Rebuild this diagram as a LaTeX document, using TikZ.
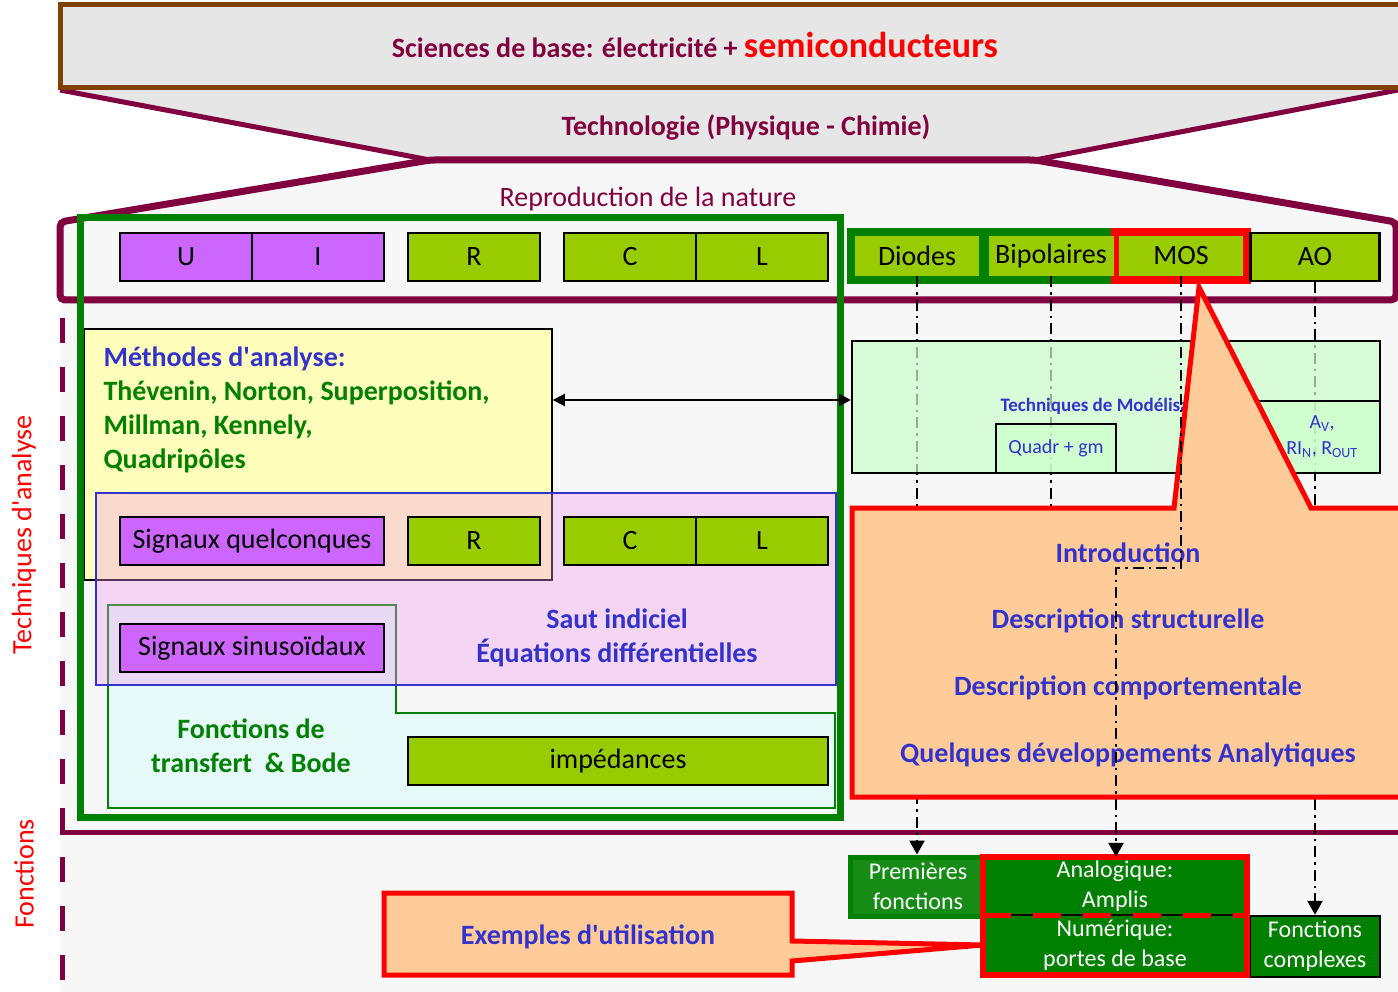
\documentclass[tikz,border=0pt]{standalone}
\usepackage{fontspec}
\setmainfont{Carlito}
\usetikzlibrary{arrows.meta}

\definecolor{brun}{HTML}{804000}
\definecolor{bordeaux}{HTML}{800040}
\definecolor{grisclair}{HTML}{E6E6E6}
\definecolor{fond}{HTML}{F7F7F7}
\definecolor{violetbox}{HTML}{CC66FF}
\definecolor{vertpomme}{HTML}{99CC00}
\definecolor{vertfonce}{HTML}{008000}
\definecolor{vertprem}{HTML}{168C16}
\definecolor{peche}{HTML}{FFCC99}
\definecolor{bleutexte}{HTML}{3333CC}
\definecolor{jaune}{HTML}{FFFFBB}
\definecolor{rose}{RGB}{240,150,240}
\definecolor{cyanclair}{HTML}{E6FAFA}
\definecolor{vertmodele}{HTML}{CCFFCC}

\newcommand{\apos}{\textquotesingle}

\begin{document}
\begin{tikzpicture}[x=1pt,y=-1pt,
    f28/.style={font=\fontsize{28}{34}\selectfont},
    f28b/.style={font=\fontsize{28}{34}\selectfont\bfseries},
    f20/.style={font=\fontsize{20}{26}\selectfont},
    tiret/.style={line width=2.5, dash pattern=on 11 off 5 on 2.5 off 5},
    fleche/.style={-{Triangle[length=14,width=15]}}]

  \useasboundingbox (0,0) rectangle (1398,992);
  \fill[white] (0,0) rectangle (1398,992);
  \fill[fond] (60,300) rectangle (1398,992);

  % sablier du haut
  \fill[grisclair] (60,88) -- (1398,88) -- (1035,160) -- (430,160) -- cycle;
  \filldraw[fill=fond, draw=bordeaux, line width=7, rounded corners=5]
    (430,160) -- (60,222) -- (60,300) -- (1396,300) -- (1396,222) -- (1035,160) -- cycle;
  \draw[bordeaux, line width=5] (60,90) -- (430,160) (1035,160) -- (1398,90);
  \draw[fill=grisclair, draw=brun, line width=5] (60,5) rectangle (1410,88);

  \node[bordeaux, font=\bfseries] (Sciences) at (695,45)
    {\fontsize{28}{34}\selectfont Sciences de base: électricité + \textcolor{red}{\fontsize{36}{40}\selectfont semiconducteurs}};
  \node[bordeaux, f28b] (Techno) at (746,127) {Technologie (Physique - Chimie)};
  \node[bordeaux, f28] (Repro) at (648,199) {Reproduction de la nature};

  % separations
  \draw[bordeaux, line width=5, dash pattern=on 25 off 24] (62,318) -- (62,992);
  \draw[bordeaux, line width=5] (60,832) -- (1398,832);
  \node[rotate=90, red, f28] (techlbl) at (24,535) {Techniques d\apos analyse};
  \node[rotate=90, red, f28] (fctlbl) at (24,874) {Fonctions};

  % zone de gauche
  \node[draw, fill=jaune, line width=1.5, minimum width=468, minimum height=251] (Meth) at (318,454.5) {};
  \filldraw[fill=cyanclair, draw=vertfonce, line width=1.5]
    (108,605) -- (396,605) -- (396,713) -- (835,713) -- (835,808) -- (108,808) -- cycle;
  \filldraw[fill=rose, fill opacity=0.35, draw=bleutexte, line width=1.5] (96,493) rectangle (836,685);

  \node[anchor=west, align=left, vertfonce, f28b] (MethTxt) at (100,410)
    {\textcolor{bleutexte}{Méthodes d\apos analyse:}\\Thévenin, Norton, Superposition,\\Millman, Kennely,\\Quadripôles};
  \node[align=center, bleutexte, f28b] (Saut) at (617,638) {Saut indiciel\\Équations différentielles};
  \node[align=center, vertfonce, f28b] (Bode) at (251,746) {Fonctions de\\transfert~~\& Bode};

  \begin{scope}[every node/.style={draw, line width=2.5, minimum width=132, minimum height=48, f28}]
    \node[fill=violetbox] (U) at (186,257) {U};
    \node[fill=violetbox] (I) at (318,257) {I};
    \node[fill=vertpomme] (R) at (474,257) {R};
    \node[fill=vertpomme] (C) at (630,257) {C};
    \node[fill=vertpomme] (L) at (762,257) {L};
    \node[fill=violetbox, minimum width=264] (SigQ) at (252,541) {Signaux quelconques};
    \node[fill=vertpomme] (R2) at (474,541) {R};
    \node[fill=vertpomme] (C2) at (630,541) {C};
    \node[fill=vertpomme] (L2) at (762,541) {L};
    \node[fill=violetbox, minimum width=264] (SigS) at (252,648) {Signaux sinusoïdaux};
    \node[fill=vertpomme, minimum width=420] (Imp) at (618,761) {impédances};
  \end{scope}

  \draw[vertfonce, line width=7] (80,218) rectangle (840,817);

  % composants
  \fill[vertfonce] (847,228) rectangle (1121,284);
  \fill[red] (1111,228) rectangle (1251,284);
  \begin{scope}[every node/.style={fill=vertpomme, minimum height=40, f28}]
    \node[minimum width=124] (Diodes) at (917,256) {Diodes};
    \node[minimum width=125] (Bip) at (1051,256) {Bipolaires};
    \node[minimum width=124] (MOS) at (1181,256) {MOS};
    \node[draw, line width=2.5, minimum width=129, minimum height=48] (AO) at (1315,257) {AO};
  \end{scope}

  % fonctions
  \begin{scope}[every node/.style={white, align=center, font=\fontsize{24}{30}\selectfont}]
    \node[fill=vertprem, draw=vertfonce, line width=5, minimum width=136, minimum height=59] (Prem) at (918,886.5) {Premières\\fonctions};
    \node[fill=vertfonce, minimum width=264, minimum height=58] (Ana) at (1115,886) {Analogique:\\Amplis};
    \node[fill=vertfonce, minimum width=264, minimum height=60] (Num) at (1115,945) {Numérique:\\portes de base};
    \node[fill=vertfonce, draw=black, line width=2.5, minimum width=130, minimum height=61] (Fcx) at (1315,946.5) {Fonctions\\complexes};
  \end{scope}
  \draw[line width=1.5] (Ana.south west) -- (Ana.south east);
  \draw[red, line width=5, dash pattern=on 28 off 22] (Ana.south west) -- (Ana.south east);
  \draw[red, line width=6] (Ana.north west) rectangle (Num.south east);

  % liaisons
  \coordinate (bipend) at (1051,515);
  \coordinate (mosbend) at (1116,568);
  \draw[tiret, fleche] (Diodes.south) -- (Diodes.south |- Prem.north);
  \draw[tiret] (Bip.south) -- (bipend);
  \draw[tiret, fleche] (AO.south) -- (AO.south |- Fcx.north);

  % modelisation
  \node[draw, fill=vertmodele, fill opacity=0.7, line width=2, minimum width=528, minimum height=132] (Model) at (1116,407) {};
  \node[draw, fill=vertmodele, fill opacity=0.7, line width=2, minimum width=130, minimum height=72] (AV) at (1315,437) {};
  \node[draw, fill=vertmodele, fill opacity=0.7, line width=2, minimum width=120, minimum height=49] (Quadr) at (1056,448.5) {};
  \node[bleutexte, f20] (QuadrTxt) at (Quadr) {Quadr + gm};
  \node[bleutexte, f20, align=center] (AVTxt) at (1322,437)
    {A\textsubscript{V},\\RI\textsubscript{N}, R\textsubscript{OUT}};
  \node[anchor=west, bleutexte, font=\fontsize{19}{26}\selectfont\bfseries] (ModelTxt) at (997,406) {Techniques de Modélisation};
  \draw[line width=2, {Triangle[length=12,width=12]}-{Triangle[length=12,width=12]}]
    (Meth.east |- AV.north) -- (Model.west |- AV.north);

  % bulle MOS
  \filldraw[fill=peche, draw=red, line width=5]
    (852,508) -- (1174,508) -- (1199,287) -- (1311,508) -- (1410,508) -- (1410,797) -- (852,797) -- cycle;
  \begin{scope}[every node/.style={bleutexte, f28b}]
    \node (Intro) at (1128,553) {Introduction};
    \node (DescS) at (1128,621) {Description structurelle};
    \node (DescC) at (1128,688) {Description comportementale};
    \node (Quelq) at (1128,755) {Quelques développements Analytiques};
  \end{scope}
  \draw[tiret, fleche] (MOS.south) |- (mosbend) -- (mosbend |- Ana.north);

  % bulle exemples
  \filldraw[fill=peche, draw=red, line width=5]
    (384,893) -- (792,893) -- (792,941) -- (Num.west) -- (792,961) -- (792,975) -- (384,975) -- cycle;
  \node[bleutexte, f28b] (Exemples) at (588,937) {Exemples d\apos utilisation};

\end{tikzpicture}
\end{document}
